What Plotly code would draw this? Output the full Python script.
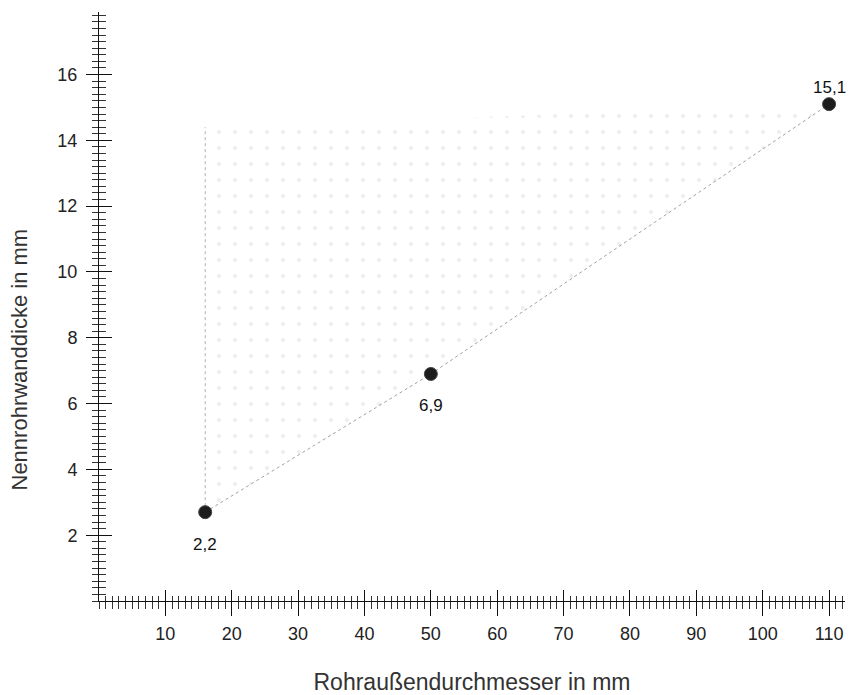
import plotly.graph_objects as go

# Data
diameters = [16, 50, 110]          # Rohraußendurchmesser in mm
thickness = [2.7, 6.9, 15.1]       # drawn marker heights
labels = ["2,2", "6,9", "15,1"]
label_shift = [-32, -32, 17]       # label offset (px) relative to marker

vline_x = [16, 16]
vline_y = [2.7, 14.4]

region_x = [16, 16, 110, 50, 16]
region_y = [2.7, 14.4, 15.1, 6.9, 2.7]

x_ticks = [10, 20, 30, 40, 50, 60, 70, 80, 90, 100, 110]
y_ticks = [2, 4, 6, 8, 10, 12, 14, 16]

XR = [0, 112.4]
YR = [0, 17.9]

FONT = "Liberation Sans, Arial"

fig = go.Figure()

# light speckled region
fig.add_trace(go.Scatter(
    x=region_x, y=region_y, mode="lines", line=dict(width=0),
    fill="toself", fillcolor="rgba(0,0,0,0)",
    fillpattern=dict(shape=".", fgcolor="#dcdcdc", bgcolor="rgba(0,0,0,0)", size=16, solidity=0.05),
    hoverinfo="skip", showlegend=False))

# vertical dotted line
fig.add_trace(go.Scatter(
    x=vline_x, y=vline_y, mode="lines",
    line=dict(color="#b0b0b0", width=1, dash="dot"),
    hoverinfo="skip", showlegend=False))

# connecting dotted line
fig.add_trace(go.Scatter(
    x=diameters, y=thickness, mode="lines",
    line=dict(color="#a0a0a0", width=1, dash="dot"),
    hoverinfo="skip", showlegend=False))

# points
fig.add_trace(go.Scatter(
    x=diameters, y=thickness, mode="markers",
    marker=dict(size=13, color="#1c1c1c", line=dict(color="#444", width=1)),
    showlegend=False))

# point labels
for xv, yv, lab, sh in zip(diameters, thickness, labels, label_shift):
    fig.add_annotation(x=xv, y=yv, text=lab, showarrow=False, yshift=sh,
                       font=dict(family=FONT, size=17, color="#111"))

# y-axis title (placed like the original, slightly below centre)
fig.add_annotation(xref="paper", yref="paper", x=0, y=0.41, xshift=-79,
                   xanchor="center", yanchor="middle", textangle=-90,
                   text="Nennrohrwanddicke in mm", showarrow=False,
                   font=dict(family=FONT, size=22, color="#333"))

# dummy trace for overlay axes (crossing ticks)
fig.add_trace(go.Scatter(x=[XR[0]], y=[YR[0]], xaxis="x2", yaxis="y2",
                         mode="markers", marker=dict(opacity=0),
                         hoverinfo="skip", showlegend=False))

tickfont = dict(family=FONT, size=18, color="#222")

fig.update_layout(
    width=849, height=695,
    margin=dict(l=99, r=4, t=12, b=92),
    paper_bgcolor="white", plot_bgcolor="white",
    xaxis=dict(
        range=XR, showgrid=False, zeroline=False, showline=True,
        linecolor="#111", linewidth=1,
        tickmode="array", tickvals=x_ticks, ticks="outside", ticklen=14,
        tickcolor="#111", tickwidth=1, tickfont=tickfont, ticklabelstandoff=2,
        minor=dict(dtick=1, ticks="outside", ticklen=7, tickcolor="#333", tickwidth=1),
        title=dict(text="Rohraußendurchmesser in mm", standoff=31,
                   font=dict(family=FONT, size=23, color="#333")),
    ),
    yaxis=dict(
        range=YR, showgrid=False, zeroline=False, showline=True,
        linecolor="#111", linewidth=1,
        tickmode="array", tickvals=y_ticks, ticks="outside", ticklen=12,
        tickcolor="#111", tickwidth=1, tickfont=tickfont, ticklabelstandoff=5,
        minor=dict(dtick=0.2, ticks="outside", ticklen=6, tickcolor="#333", tickwidth=1),
    ),
    xaxis2=dict(
        overlaying="x", anchor="y", side="bottom", range=XR,
        showgrid=False, zeroline=False, showline=False, showticklabels=False,
        tickmode="array", tickvals=x_ticks, ticks="inside", ticklen=11,
        tickcolor="#111", tickwidth=1,
        minor=dict(dtick=1, ticks="inside", ticklen=5, tickcolor="#333", tickwidth=1),
    ),
    yaxis2=dict(
        overlaying="y", anchor="x", side="left", range=YR,
        showgrid=False, zeroline=False, showline=False, showticklabels=False,
        tickmode="array", tickvals=y_ticks, ticks="inside", ticklen=13,
        tickcolor="#111", tickwidth=1,
        minor=dict(dtick=0.2, ticks="inside", ticklen=7, tickcolor="#333", tickwidth=1),
    ),
)

fig.write_html("out.html")
